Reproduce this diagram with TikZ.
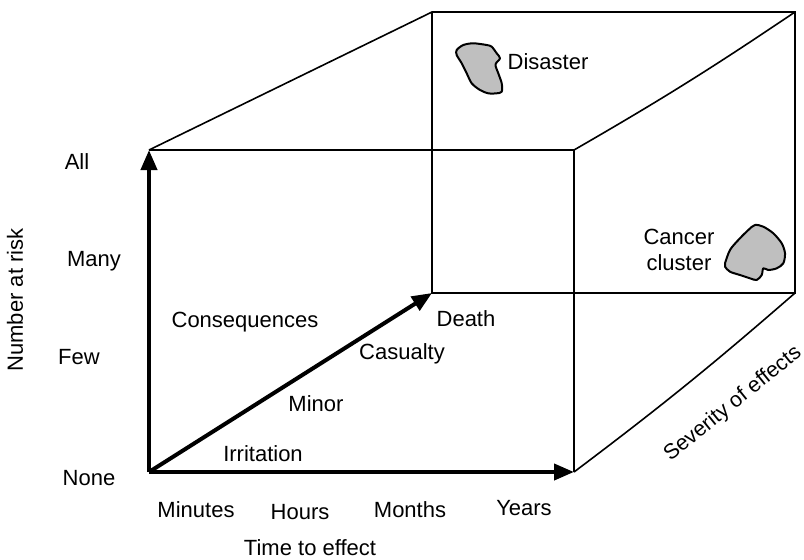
\documentclass[tikz,border=0pt]{standalone}
\usepackage{fontspec}
\setmainfont{Liberation Sans}
\usetikzlibrary{arrows.meta}

\begin{document}
\begin{tikzpicture}[
    x=0.5pt, y=-0.5pt,
    edge/.style={line width=0.8pt},
    axis/.style={line width=2pt, -{Triangle[length=10pt,width=8pt]}},
    lbl/.style={font=\fontsize{11}{13}\selectfont, inner sep=1pt, align=center},
    blob/.style={draw, line width=1pt, fill=black!25, line join=round}
]
\useasboundingbox (0,0) rectangle (804,559);
\coordinate (o) at (149,472);
\coordinate (fa) at (149,150);
\coordinate (fb) at (574,150);
\coordinate (fc) at (574,472);
\coordinate (ba) at (432,12);
\coordinate (bb) at (795,12);
\coordinate (bc) at (795,293);
\coordinate (bo) at (432,293);

\draw[edge] (fa) -- (fb) -- (fc);
\draw[edge] (fa) -- (ba) -- (bb) -- (bc) -- (bo) -- (ba);
\draw[edge] (fb) to[bend right=2] (bb);
\draw[edge] (fc) to[bend right=2] (bc);
\draw[axis] (o) -- (fa);
\draw[axis] (o) -- (fc);
\draw[axis] (o) -- (bo);

\node[lbl] (all) at (77,162) {All};
\node[lbl] (many) at (94,261) {Many};
\node[lbl] (few) at (79,357) {Few};
\node[lbl] (none) at (89,478) {None};
\node[lbl, rotate=90] (risk) at (15,300) {Number at risk};

\node[lbl] (minutes) at (196,510) {Minutes};
\node[lbl] (hours) at (300,512) {Hours};
\node[lbl] (months) at (410,510) {Months};
\node[lbl] (years) at (524,508) {Years};
\node[lbl] (time) at (310,548) {Time to effect};

\node[lbl] (irritation) at (263,454) {Irritation};
\node[lbl] (minor) at (316,404) {Minor};
\node[lbl] (casualty) at (402,354) {Casualty};
\node[lbl] (death) at (466,319) {Death};
\node[lbl] (conseq) at (245,322) {Consequences};
\node[lbl, rotate=39, font=\fontsize{10.7}{13}\selectfont] (severity) at (733,404) {Severity of effects};

\node[lbl] (disaster) at (548,62) {Disaster};
\node[lbl] (cancer) at (679,250) {Cancer\\cluster};

\draw[blob] plot[smooth cycle, tension=0.5] coordinates {
  (456.7,50) (463.3,45) (473.3,43.3) (486.7,45) (491.7,46.7) (496.7,53.3)
  (500,58.3) (495.5,64.5) (498.3,73.3) (501.7,83.3) (501.7,91.7)
  (496.7,93.3) (488.3,93.3) (480,90) (471.7,83.3) (466.7,73.3)
  (461.7,63.3) (456.7,55)};
\draw[blob] plot[smooth cycle, tension=0.5] coordinates {
  (725,263.3) (730,250) (738.3,240) (748.3,230) (755,225) (763.3,226.7)
  (773.3,233.3) (781.7,243.3) (785,253.3) (783.3,263.3) (776.7,268.3)
  (768.3,270) (763.3,268.3) (761.7,275) (756.7,280) (750,278.3)
  (740,275) (730,271.7) (725,266.7)};
\end{tikzpicture}
\end{document}
